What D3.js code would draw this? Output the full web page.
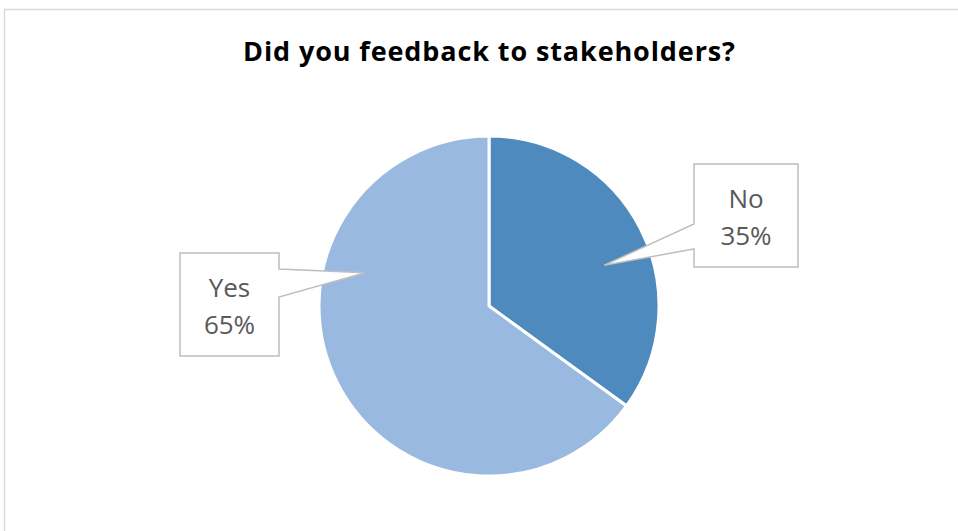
<!DOCTYPE html>
<html>
<head>
<meta charset="utf-8">
<script src="https://cdn.jsdelivr.net/npm/d3@7"></script>
<style>
  body { margin: 0; background: #fff; }
  svg { display: block; }
</style>
</head>
<body>
<svg id="chart" width="958" height="531"></svg>
<script>
// data
var labels = ["No", "Yes"];
var values = [35, 65];
var colors = ["#4f8abe", "#99b9e0"];

var width = 958, height = 531;
var svg = d3.select("#chart");

// chart frame (runs off right/bottom edges)
svg.append("rect")
    .attr("x", 4.5).attr("y", 9.5)
    .attr("width", 1000).attr("height", 600)
    .attr("fill", "#fff")
    .attr("stroke", "#d9d9d9")
    .attr("stroke-width", 1.5);

svg.append("text")
    .attr("x", 489).attr("y", 61)
    .attr("text-anchor", "middle")
    .attr("font-family", "'Open Sans', sans-serif")
    .attr("font-weight", "bold")
    .attr("font-size", 27)
    .attr("textLength", 492)
    .attr("lengthAdjust", "spacing")
    .attr("fill", "#000")
    .text("Did you feedback to stakeholders?");

var cx = 489, cy = 306, r = 170;

var pie = d3.pie().sort(null).value(function(d) { return d; });
var arc = d3.arc().innerRadius(0).outerRadius(r);
var arcs = pie(values);

var g = svg.append("g").attr("transform", "translate(" + cx + "," + cy + ")");
g.selectAll("path")
    .data(arcs)
    .enter().append("path")
    .attr("d", arc)
    .attr("fill", function(d, i) { return colors[i]; })
    .attr("stroke", "#fff")
    .attr("stroke-width", 3)
    .attr("stroke-linejoin", "miter");

// callouts: box layout + where the pointer lands (angle in deg, fraction of radius)
var callouts = [
    {box: [694, 164, 104, 103], side: "left", base: [224, 249], tipAngle: 70.5, tipR: 0.72},
    {box: [180, 253, 99, 103], side: "right", base: [269, 297], tipAngle: 285, tipR: 0.755}
];

callouts.forEach(function(c, i) {
    var a = c.tipAngle * Math.PI / 180;
    var tx = cx + Math.sin(a) * r * c.tipR;
    var ty = cy - Math.cos(a) * r * c.tipR;
    var x0 = c.box[0], y0 = c.box[1], x1 = x0 + c.box[2], y1 = y0 + c.box[3];
    var p = d3.path();
    if (c.side === "left") {
        p.moveTo(x0, y0); p.lineTo(x1, y0); p.lineTo(x1, y1); p.lineTo(x0, y1);
        p.lineTo(x0, c.base[1]); p.lineTo(tx, ty); p.lineTo(x0, c.base[0]);
    } else {
        p.moveTo(x0, y0); p.lineTo(x1, y0); p.lineTo(x1, c.base[0]); p.lineTo(tx, ty);
        p.lineTo(x1, c.base[1]); p.lineTo(x1, y1); p.lineTo(x0, y1);
    }
    p.closePath();
    svg.append("path")
        .attr("d", p.toString())
        .attr("fill", "#fff")
        .attr("stroke", "#bfbfbf")
        .attr("stroke-width", 1.5);

    var mx = (x0 + x1) / 2;
    var t = svg.append("text")
        .attr("text-anchor", "middle")
        .attr("font-family", "'Open Sans', sans-serif")
        .attr("font-size", 26)
        .attr("fill", "#595959");
    t.append("tspan").attr("x", mx).attr("y", y0 + 43.5).text(labels[i]);
    var pct = Math.round(100 * values[i] / d3.sum(values)) + "%";
    t.append("tspan").attr("x", mx).attr("y", y0 + 80.5).text(pct);
});
</script>
</body>
</html>
